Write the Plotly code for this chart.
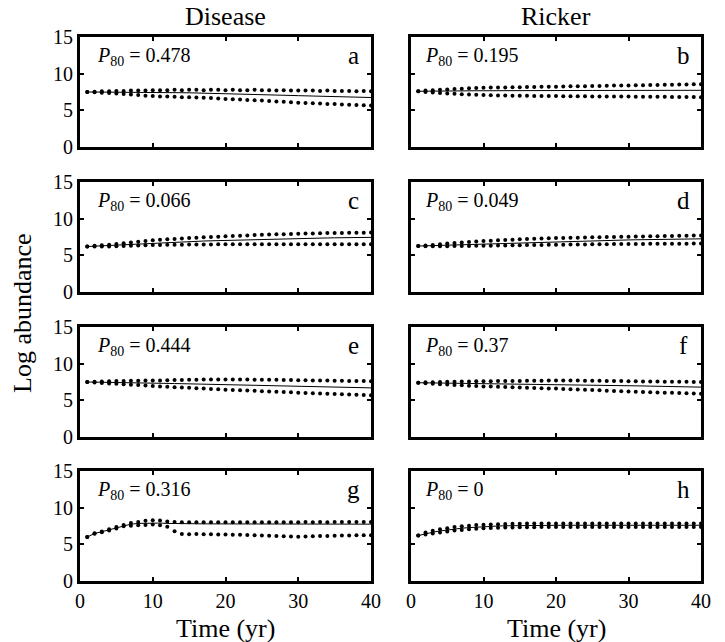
import plotly.graph_objects as go

years = list(range(1, 41))

# Panel a: Disease, row 1
a_upper = [7.5, 7.55, 7.6, 7.6, 7.65, 7.65, 7.7, 7.7, 7.7, 7.75, 7.75, 7.75, 7.8, 7.75, 7.8, 7.8, 7.75, 7.8, 7.8, 7.75,
           7.8, 7.75, 7.75, 7.8, 7.75, 7.75, 7.7, 7.75, 7.7, 7.7, 7.7, 7.7, 7.65, 7.7, 7.65, 7.65, 7.65, 7.6, 7.65, 7.6]
a_median = [7.5, 7.5, 7.5, 7.5, 7.5, 7.5, 7.48, 7.47, 7.46, 7.45, 7.44, 7.43, 7.42, 7.4, 7.39, 7.37, 7.35, 7.34, 7.32, 7.3,
            7.28, 7.25, 7.22, 7.2, 7.17, 7.14, 7.1, 7.07, 7.03, 7.0, 6.98, 6.95, 6.92, 6.9, 6.87, 6.85, 6.82, 6.8, 6.77, 6.75]
a_lower = [7.5, 7.45, 7.4, 7.35, 7.3, 7.22, 7.15, 7.08, 7.0, 6.95, 6.9, 6.88, 6.85, 6.8, 6.78, 6.75, 6.7, 6.68, 6.62, 6.55,
           6.5, 6.47, 6.42, 6.38, 6.33, 6.28, 6.22, 6.17, 6.1, 6.05, 6.0, 5.95, 5.92, 5.88, 5.85, 5.8, 5.76, 5.72, 5.7, 5.65]

# Panel b: Ricker, row 1
b_upper = [7.6, 7.7, 7.75, 7.8, 7.85, 7.9, 7.95, 8.0, 8.03, 8.07, 8.1, 8.12, 8.13, 8.15, 8.15, 8.17, 8.18, 8.2, 8.2, 8.22,
           8.25, 8.27, 8.28, 8.3, 8.32, 8.33, 8.35, 8.37, 8.38, 8.4, 8.42, 8.43, 8.45, 8.47, 8.48, 8.5, 8.52, 8.53, 8.55, 8.57]
b_median = [7.6, 7.62, 7.63, 7.64, 7.65, 7.65, 7.66, 7.66, 7.67, 7.67, 7.68, 7.68, 7.68, 7.69, 7.69, 7.69, 7.7, 7.7, 7.7, 7.7,
            7.7, 7.7, 7.7, 7.71, 7.71, 7.71, 7.71, 7.71, 7.72, 7.72, 7.72, 7.72, 7.72, 7.72, 7.72, 7.73, 7.73, 7.73, 7.73, 7.73]
b_lower = [7.6, 7.5, 7.42, 7.36, 7.3, 7.25, 7.2, 7.15, 7.12, 7.08, 7.05, 7.03, 7.02, 7.0, 6.99, 6.98, 6.97, 6.96, 6.95, 6.94,
           6.93, 6.92, 6.92, 6.91, 6.9, 6.9, 6.89, 6.88, 6.88, 6.87, 6.86, 6.86, 6.85, 6.84, 6.84, 6.83, 6.82, 6.82, 6.81, 6.8]

# Panel c: Disease, row 2
c_upper = [6.2, 6.3, 6.38, 6.45, 6.55, 6.65, 6.75, 6.85, 6.95, 7.05, 7.12, 7.18, 7.24, 7.3, 7.35, 7.4, 7.45, 7.5, 7.55, 7.6,
           7.64, 7.68, 7.72, 7.76, 7.8, 7.83, 7.86, 7.89, 7.92, 7.95, 7.97, 7.99, 8.01, 8.03, 8.05, 8.06, 8.07, 8.08, 8.09, 8.1]
c_median = [6.2, 6.25, 6.3, 6.35, 6.4, 6.45, 6.5, 6.57, 6.63, 6.7, 6.74, 6.78, 6.82, 6.86, 6.89, 6.92, 6.95, 6.98, 7.01, 7.05,
            7.08, 7.11, 7.14, 7.16, 7.18, 7.2, 7.22, 7.24, 7.27, 7.3, 7.32, 7.34, 7.36, 7.37, 7.39, 7.4, 7.41, 7.42, 7.44, 7.45]
c_lower = [6.2, 6.2, 6.2, 6.22, 6.25, 6.27, 6.3, 6.33, 6.36, 6.4, 6.42, 6.44, 6.45, 6.46, 6.47, 6.48, 6.48, 6.49, 6.5, 6.5,
           6.5, 6.5, 6.51, 6.5, 6.51, 6.5, 6.5, 6.51, 6.5, 6.5, 6.51, 6.5, 6.5, 6.51, 6.5, 6.5, 6.5, 6.51, 6.5, 6.5]

# Panel d: Ricker, row 2
d_upper = [6.27, 6.35, 6.42, 6.5, 6.6, 6.68, 6.75, 6.82, 6.89, 6.95, 7.0, 7.05, 7.1, 7.14, 7.18, 7.22, 7.25, 7.28, 7.32, 7.35,
           7.37, 7.39, 7.41, 7.43, 7.45, 7.47, 7.49, 7.51, 7.53, 7.55, 7.57, 7.58, 7.6, 7.61, 7.63, 7.64, 7.66, 7.67, 7.69, 7.7]
d_median = [6.27, 6.3, 6.34, 6.38, 6.42, 6.46, 6.5, 6.53, 6.57, 6.6, 6.63, 6.66, 6.69, 6.72, 6.75, 6.78, 6.81, 6.84, 6.87, 6.9,
            6.92, 6.94, 6.96, 6.98, 7.0, 7.02, 7.04, 7.06, 7.08, 7.1, 7.12, 7.13, 7.15, 7.16, 7.18, 7.19, 7.21, 7.22, 7.24, 7.25]
d_lower = [6.27, 6.25, 6.24, 6.24, 6.25, 6.26, 6.27, 6.28, 6.29, 6.3, 6.32, 6.34, 6.35, 6.37, 6.38, 6.4, 6.41, 6.42, 6.44, 6.45,
           6.46, 6.47, 6.48, 6.49, 6.5, 6.51, 6.52, 6.53, 6.54, 6.55, 6.56, 6.56, 6.57, 6.57, 6.58, 6.58, 6.59, 6.59, 6.6, 6.6]

# Panel e: Disease, row 3
e_upper = [7.5, 7.55, 7.58, 7.6, 7.62, 7.64, 7.66, 7.67, 7.69, 7.7, 7.72, 7.74, 7.76, 7.78, 7.8, 7.82, 7.83, 7.84, 7.85, 7.85,
           7.85, 7.84, 7.83, 7.82, 7.81, 7.8, 7.79, 7.78, 7.77, 7.75, 7.74, 7.72, 7.71, 7.7, 7.68, 7.67, 7.65, 7.63, 7.62, 7.6]
e_median = [7.5, 7.49, 7.48, 7.47, 7.46, 7.44, 7.42, 7.4, 7.38, 7.35, 7.33, 7.31, 7.29, 7.27, 7.25, 7.23, 7.21, 7.19, 7.17, 7.15,
            7.13, 7.1, 7.08, 7.05, 7.03, 7.0, 6.98, 6.95, 6.93, 6.9, 6.88, 6.86, 6.84, 6.82, 6.8, 6.78, 6.76, 6.74, 6.72, 6.7]
e_lower = [7.5, 7.43, 7.37, 7.31, 7.25, 7.2, 7.14, 7.08, 7.02, 6.95, 6.9, 6.85, 6.8, 6.75, 6.7, 6.65, 6.6, 6.55, 6.5, 6.45,
           6.41, 6.37, 6.33, 6.29, 6.25, 6.21, 6.17, 6.13, 6.09, 6.05, 6.01, 5.97, 5.93, 5.89, 5.85, 5.82, 5.79, 5.76, 5.73, 5.7]

# Panel f: Ricker, row 3
f_upper = [7.4, 7.45, 7.48, 7.5, 7.52, 7.54, 7.56, 7.57, 7.59, 7.6, 7.61, 7.62, 7.63, 7.64, 7.65, 7.66, 7.67, 7.68, 7.69, 7.7,
           7.7, 7.69, 7.69, 7.68, 7.67, 7.66, 7.65, 7.64, 7.62, 7.6, 7.59, 7.58, 7.57, 7.56, 7.55, 7.54, 7.53, 7.52, 7.51, 7.5]
f_median = [7.4, 7.39, 7.37, 7.36, 7.34, 7.32, 7.31, 7.29, 7.27, 7.25, 7.24, 7.23, 7.22, 7.21, 7.2, 7.19, 7.18, 7.17, 7.16, 7.15,
            7.14, 7.12, 7.11, 7.09, 7.08, 7.06, 7.05, 7.03, 7.02, 7.0, 6.98, 6.96, 6.94, 6.92, 6.9, 6.88, 6.86, 6.84, 6.82, 6.8]
f_lower = [7.4, 7.33, 7.27, 7.21, 7.15, 7.1, 7.05, 7.0, 6.95, 6.9, 6.87, 6.84, 6.81, 6.78, 6.75, 6.72, 6.69, 6.66, 6.63, 6.6,
           6.56, 6.52, 6.48, 6.44, 6.4, 6.36, 6.32, 6.28, 6.24, 6.2, 6.17, 6.14, 6.11, 6.08, 6.05, 6.02, 5.99, 5.96, 5.93, 5.9]

# Panel g: Disease, row 4
g_upper = [6.0, 6.5, 6.75, 7.05, 7.35, 7.65, 7.9, 8.05, 8.2, 8.3, 8.25, 8.1, 8.05, 8.0, 8.0, 8.0, 8.02, 8.0, 8.0, 8.02,
           8.0, 8.0, 8.02, 8.0, 8.0, 8.02, 8.0, 8.02, 8.0, 8.02, 8.03, 8.02, 8.03, 8.02, 8.03, 8.04, 8.03, 8.04, 8.05, 8.05]
g_median = [6.0, 6.48, 6.72, 6.98, 7.25, 7.55, 7.75, 7.85, 7.9, 7.95, 7.9, 7.85, 7.82, 7.8, 7.8, 7.8, 7.79, 7.79, 7.79, 7.78,
            7.78, 7.78, 7.78, 7.77, 7.77, 7.77, 7.77, 7.77, 7.76, 7.76, 7.76, 7.76, 7.76, 7.75, 7.75, 7.75, 7.75, 7.75, 7.75, 7.75]
g_lower = [6.0, 6.45, 6.65, 6.9, 7.15, 7.45, 7.55, 7.6, 7.65, 7.7, 7.6, 7.4, 6.8, 6.42, 6.38, 6.4, 6.36, 6.38, 6.35, 6.35,
           6.32, 6.3, 6.28, 6.25, 6.22, 6.18, 6.15, 6.1, 6.08, 6.05, 6.08, 6.1, 6.12, 6.15, 6.17, 6.2, 6.22, 6.23, 6.25, 6.25]

# Panel h: Ricker, row 4
h_upper = [6.2, 6.6, 6.85, 7.05, 7.2, 7.35, 7.45, 7.55, 7.62, 7.68, 7.72, 7.75, 7.78, 7.8, 7.82, 7.83, 7.84, 7.85, 7.85, 7.85,
           7.85, 7.85, 7.85, 7.85, 7.85, 7.85, 7.85, 7.85, 7.85, 7.85, 7.85, 7.85, 7.85, 7.85, 7.85, 7.85, 7.85, 7.85, 7.85, 7.85]
h_median = [6.2, 6.45, 6.65, 6.82, 6.97, 7.1, 7.2, 7.28, 7.36, 7.42, 7.47, 7.5, 7.53, 7.55, 7.57, 7.58, 7.59, 7.6, 7.6, 7.6,
            7.6, 7.6, 7.6, 7.6, 7.6, 7.6, 7.6, 7.6, 7.6, 7.6, 7.6, 7.6, 7.6, 7.6, 7.6, 7.6, 7.6, 7.6, 7.6, 7.6]
h_lower = [6.2, 6.35, 6.48, 6.6, 6.75, 6.87, 6.97, 7.05, 7.12, 7.18, 7.22, 7.26, 7.28, 7.3, 7.32, 7.33, 7.34, 7.35, 7.35, 7.35,
           7.35, 7.35, 7.35, 7.35, 7.35, 7.35, 7.35, 7.35, 7.35, 7.35, 7.35, 7.35, 7.35, 7.35, 7.35, 7.35, 7.35, 7.35, 7.35, 7.35]

panel_letters = ["a", "b", "c", "d", "e", "f", "g", "h"]
p80_values = ["0.478", "0.195", "0.066", "0.049", "0.444", "0.37", "0.316", "0"]
column_titles = ["Disease", "Ricker"]
x_ticks = [0, 10, 20, 30, 40]
y_ticks = [0, 5, 10, 15]

panels = [
    (a_upper, a_median, a_lower), (b_upper, b_median, b_lower),
    (c_upper, c_median, c_lower), (d_upper, d_median, d_lower),
    (e_upper, e_median, e_lower), (f_upper, f_median, f_lower),
    (g_upper, g_median, g_lower), (h_upper, h_median, h_lower),
]

W, H = 725, 642
col_px = [(80, 371), (411, 701)]
row_px = [(37, 147), (182, 292), (327, 437), (471, 581)]

FONT = "Liberation Serif"

fig = go.Figure()
layout_axes = {}
annotations = []

for i, (up, med, lo) in enumerate(panels):
    r, c = divmod(i, 2)
    n = i + 1
    xa = "x" if n == 1 else f"x{n}"
    ya = "y" if n == 1 else f"y{n}"
    xkey = "xaxis" if n == 1 else f"xaxis{n}"
    ykey = "yaxis" if n == 1 else f"yaxis{n}"
    x0, x1 = col_px[c]
    y0, y1 = row_px[r]
    layout_axes[xkey] = dict(
        domain=[x0 / W, x1 / W], anchor=ya, range=[0, 40], automargin=False,
        tickvals=x_ticks, showticklabels=(r == 3),
        ticks="inside", ticklen=4, tickwidth=2, tickcolor="black",
        showline=True, linewidth=3, linecolor="black", mirror="ticks",
        showgrid=False, zeroline=False,
        tickfont=dict(family=FONT, size=20, color="black"),
    )
    layout_axes[ykey] = dict(
        domain=[1 - y1 / H, 1 - y0 / H], anchor=xa, range=[0, 15], automargin=False,
        tickvals=y_ticks, showticklabels=(c == 0),
        ticks="inside", ticklen=4, tickwidth=2, tickcolor="black",
        showline=True, linewidth=3, linecolor="black", mirror="ticks",
        showgrid=False, zeroline=False,
        tickfont=dict(family=FONT, size=20, color="black"),
    )
    fig.add_trace(go.Scatter(x=years, y=med, mode="lines", xaxis=xa, yaxis=ya,
                             line=dict(color="black", width=1), showlegend=False))
    for s in (up, lo):
        fig.add_trace(go.Scatter(x=years, y=s, mode="markers", xaxis=xa, yaxis=ya,
                                 marker=dict(color="black", size=4), showlegend=False))
    annotations.append(dict(
        xref=f"{xa} domain", yref=f"{ya} domain", x=0.05 if c == 0 else 0.04, y=0.82,
        xanchor="left", yanchor="middle", showarrow=False,
        text=f"<i>P</i><sub>80</sub> = {p80_values[i]}",
        font=dict(family=FONT, size=20, color="black"),
    ))
    annotations.append(dict(
        xref=f"{xa} domain", yref=f"{ya} domain", x=0.94, y=0.83,
        xanchor="center", yanchor="middle", showarrow=False,
        text=panel_letters[i],
        font=dict(family=FONT, size=25, color="black"),
    ))

for c, title in enumerate(column_titles):
    cx = (col_px[c][0] + col_px[c][1]) / 2 / W
    annotations.append(dict(xref="paper", yref="paper", x=cx, y=1 - 17 / H,
                            xanchor="center", yanchor="middle", showarrow=False,
                            text=title, font=dict(family=FONT, size=26, color="black")))
    annotations.append(dict(xref="paper", yref="paper", x=cx, y=1 - 628 / H,
                            xanchor="center", yanchor="middle", showarrow=False,
                            text="Time (yr)", font=dict(family=FONT, size=26, color="black")))

annotations.append(dict(xref="paper", yref="paper", x=22 / W, y=1 - 313 / H,
                        xanchor="center", yanchor="middle", showarrow=False, textangle=-90,
                        text="Log abundance", font=dict(family=FONT, size=26, color="black")))

fig.update_layout(
    width=W, height=H, margin=dict(l=0, r=0, t=0, b=0, autoexpand=False),
    paper_bgcolor="white", plot_bgcolor="white",
    font=dict(family=FONT, color="black"),
    annotations=annotations, showlegend=False,
    **layout_axes,
)

fig.write_html("out.html", config={"displayModeBar": False},
               post_script="document.body.style.margin='0px';")
